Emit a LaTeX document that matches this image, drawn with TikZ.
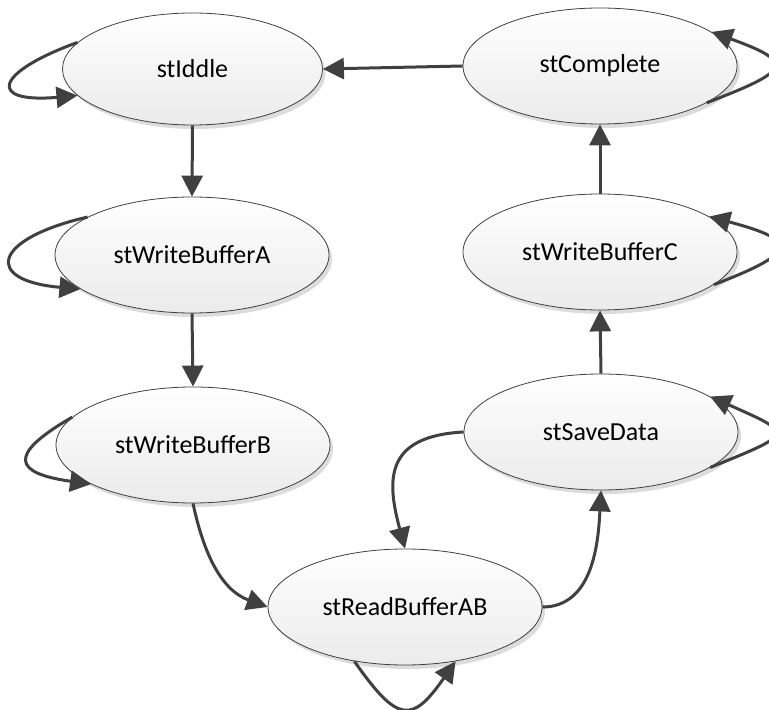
\documentclass[tikz,border=0pt]{standalone}
\usepackage{fontspec}
\setmainfont{Carlito}
\usetikzlibrary{shapes.geometric,arrows.meta,shadows}
\definecolor{edgegray}{HTML}{404040}
\definecolor{fillbottom}{HTML}{EBEBEB}
\definecolor{shadowgray}{HTML}{DCDCDC}

\begin{document}
\begin{tikzpicture}[x=1pt, y=1pt,
  fsmstate/.style={ellipse, draw=edgegray, line width=0.8pt, top color=white, bottom color=fillbottom,
    drop shadow={shadow xshift=3pt, shadow yshift=-4pt, fill=shadowgray, opacity=1},
    minimum width=274pt, minimum height=116pt, inner sep=0pt, font=\fontsize{26}{30}\selectfont},
  fsmedge/.style={draw=edgegray, line width=3pt, -{Triangle[length=21pt,width=21pt]}},
  loopdist/.style={out distance=#1, in distance=#1},
]
\useasboundingbox (0,0) rectangle (769,710);
\node[fsmstate, minimum width=260pt, minimum height=112pt] (idle) at (192.5,641) {stIddle};
\node[fsmstate] (complete) at (600,644) {stComplete};
\node[fsmstate] (bufA) at (192,455) {stWriteBufferA};
\node[fsmstate] (bufB) at (193,265) {stWriteBufferB};
\node[fsmstate] (bufC) at (600,458) {stWriteBufferC};
\node[fsmstate] (save) at (601,278) {stSaveData};
\node[fsmstate] (readAB) at (405,103) {stReadBufferAB};

\draw[fsmedge] (complete.west) -- (idle.east);
\draw[fsmedge] (idle.south) -- (bufA.north);
\draw[fsmedge] (bufA.south) -- (bufB.north);
\draw[fsmedge] (bufB.south) to[out=-78, in=160] (readAB.west);
\draw[fsmedge] (readAB.east) to[out=0, in=-93] (save.south);
\draw[fsmedge] (save.west) to[out=183, in=105, out distance=80pt, in distance=70pt] (readAB.north);
\draw[fsmedge] (save.north) -- (bufC.south);
\draw[fsmedge] (bufC.north) -- (complete.south);

% self loops
\draw[fsmedge] (idle.167) to[out=200, in=185, loopdist=90pt] (idle.193);
\draw[fsmedge] (bufA.160) to[out=193, in=175, loopdist=98pt] (bufA.197);
\draw[fsmedge] (bufB.167) to[out=210, in=172, loopdist=77pt] (bufB.201);
\draw[fsmedge] (complete.-19) to[out=21, in=-20, loopdist=90pt] (complete.17);
\draw[fsmedge] (bufC.-16) to[out=21, in=-15, loopdist=92pt] (bufC.18);
\draw[fsmedge] (save.-18) to[out=22, in=-24, loopdist=92pt] (save.18);
\draw[fsmedge] (readAB.227) to[out=-55, in=-125, loopdist=76pt] (readAB.-47);
\end{tikzpicture}
\end{document}
